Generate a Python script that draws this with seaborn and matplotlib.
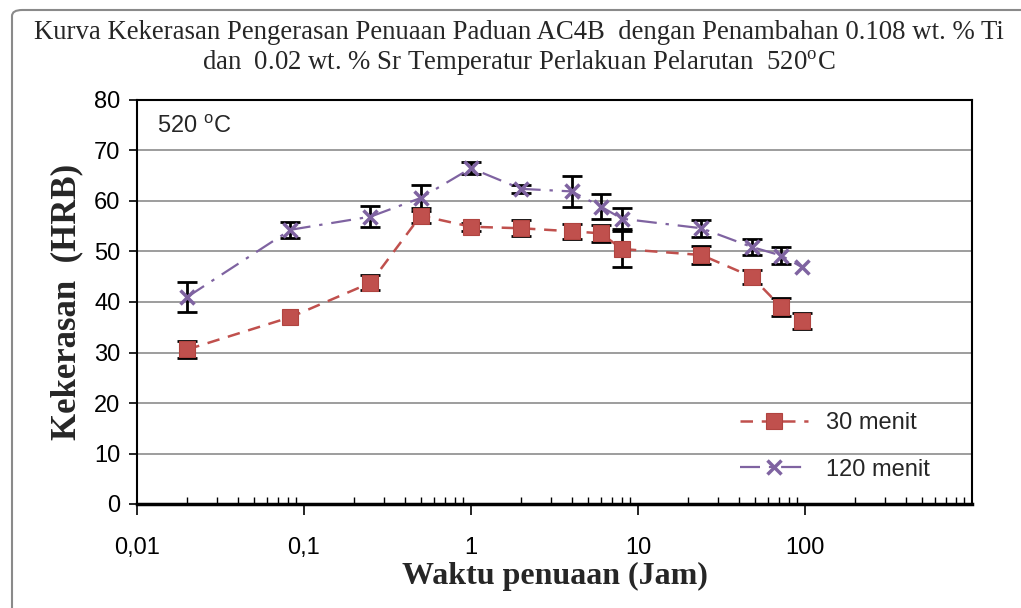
import numpy as np
import pandas as pd
import seaborn as sns
import matplotlib
matplotlib.use("Agg")
import matplotlib.pyplot as plt
from matplotlib.patches import FancyBboxPatch
from matplotlib.ticker import LogLocator, FixedLocator, FixedFormatter, NullFormatter

# Aging time (hours)
waktu = [0.02, 0.083, 0.25, 0.5, 1, 2, 4, 6, 8, 24, 48, 72, 96]

# Hardness (HRB) and error, 30 minute solution treatment
hrb_30 = [30.6, 37.0, 43.8, 57.1, 54.9, 54.6, 54.0, 53.6, 50.5, 49.3, 45.0, 39.0, 36.3]
err_30 = [1.6, 0.0, 1.5, 1.5, 0.8, 1.6, 1.5, 1.65, 3.6, 1.8, 1.4, 1.7, 1.6]

# Hardness (HRB) and error, 120 minute solution treatment
hrb_120 = [41.0, 54.3, 56.9, 60.6, 66.5, 62.4, 61.9, 58.9, 56.5, 54.6, 50.9, 49.2, 46.9]
err_120 = [3.0, 1.6, 2.1, 2.5, 1.2, 0.8, 3.0, 2.5, 2.1, 1.7, 1.6, 1.7, 0.0]

label_30 = "30 menit"
label_120 = "120 menit"

x_ticks = [0.01, 0.1, 1, 10, 100]
x_ticklabels = ["0,01", "0,1", "1", "10", "100"]
y_ticks = [0, 10, 20, 30, 40, 50, 60, 70, 80]

title = ("Kurva Kekerasan Pengerasan Penuaan Paduan AC4B  dengan Penambahan 0.108 wt. % Ti\n"
         "dan  0.02 wt. % Sr Temperatur Perlakuan Pelarutan  520$^{\\mathregular{o}}$C")

RED = "#C0504D"
PURPLE = "#7F63A1"

sns.set_style("white")
plt.rcParams["font.family"] = ["Liberation Sans", "DejaVu Sans"]

fig = plt.figure(figsize=(10.21, 6.08), dpi=100)
ax = fig.add_axes([137 / 1021, 1 - 504 / 608, (972 - 137) / 1021, (504 - 100) / 608])

df30 = pd.DataFrame({"waktu": waktu, "hrb": hrb_30})
df120 = pd.DataFrame({"waktu": waktu, "hrb": hrb_120})


def draw_errors(x, y, err, z):
    # only points that carry a measured spread get an error bar
    x, y, err = np.asarray(x), np.asarray(y), np.asarray(err)
    keep = err > 0
    ax.errorbar(x[keep], y[keep], yerr=err[keep], fmt="none", ecolor="black",
                elinewidth=2, capsize=7, capthick=2, zorder=z)


draw_errors(waktu, hrb_120, err_120, 2)
sns.lineplot(data=df120, x="waktu", y="hrb", ax=ax, color=PURPLE, lw=1.6,
             marker="x", markersize=10, markeredgewidth=2.5,
             markeredgecolor=PURPLE, label=label_120, zorder=3)
ax.lines[-1].set_dashes([9, 4, 1.5, 4])

draw_errors(waktu, hrb_30, err_30, 4)
sns.lineplot(data=df30, x="waktu", y="hrb", ax=ax, color=RED, lw=1.8,
             marker="s", markersize=11, markeredgewidth=0.8, markeredgecolor="#B04440",
             label=label_30, zorder=5)
ax.lines[-1].set_dashes([5, 3.5])

ax.set_xscale("log")
ax.set_xlim(0.01, 1000)
ax.set_ylim(0, 80)

ax.xaxis.set_major_locator(FixedLocator(x_ticks))
ax.xaxis.set_major_formatter(FixedFormatter(x_ticklabels))
ax.xaxis.set_minor_locator(LogLocator(base=10, subs=np.arange(2, 10), numticks=20))
ax.xaxis.set_minor_formatter(NullFormatter())
ax.set_yticks(y_ticks)

ax.tick_params(axis="x", which="major", direction="out", length=8, width=1.2,
               labelsize=17, pad=16, colors="black", bottom=True)
ax.tick_params(axis="x", which="minor", direction="in", length=5, width=1.0,
               bottom=True, colors="black")
ax.tick_params(axis="y", which="major", direction="out", length=6, width=1.2,
               labelsize=17, pad=6, left=True, colors="black")

ax.grid(axis="y", color="#8C8C8C", lw=1.2)
ax.grid(axis="x", visible=False)
for name, sp in ax.spines.items():
    sp.set_visible(True)
    sp.set_color("black")
    sp.set_linewidth(1.5)
ax.spines["bottom"].set_linewidth(2.5)

ax.set_xlabel("Waktu penuaan (Jam)", family="Liberation Serif", fontweight="bold",
              fontsize=23, labelpad=2)
ax.set_ylabel("Kekerasan  (HRB)", family="Liberation Serif", fontweight="bold",
              fontsize=25, labelpad=8)

ax.text(0.024, 0.935, "520 $^{\\mathregular{o}}$C", transform=ax.transAxes,
        fontsize=17, va="center", ha="left")

handles, labels = ax.get_legend_handles_labels()
order = [labels.index(label_30), labels.index(label_120)]
ax.legend([handles[i] for i in order], [labels[i] for i in order],
          loc="lower right", bbox_to_anchor=(0.975, 0.005), frameon=False,
          fontsize=17, handlelength=2.9, labelspacing=1.05, handletextpad=0.75)

fig.text(0.508, 1 - 49 / 608, title, family="Liberation Serif", fontsize=19.3,
         ha="center", va="center", linespacing=1.12)

frame = FancyBboxPatch((12 / 1021, -0.2), 1.2, 1 - 10 / 608 + 0.2,
                       boxstyle="round,pad=0,rounding_size=0.01",
                       transform=fig.transFigure, fill=False,
                       edgecolor="#8A8A8A", lw=1.5, clip_on=False)
fig.patches.append(frame)

fig.savefig("out.png", dpi=100)
